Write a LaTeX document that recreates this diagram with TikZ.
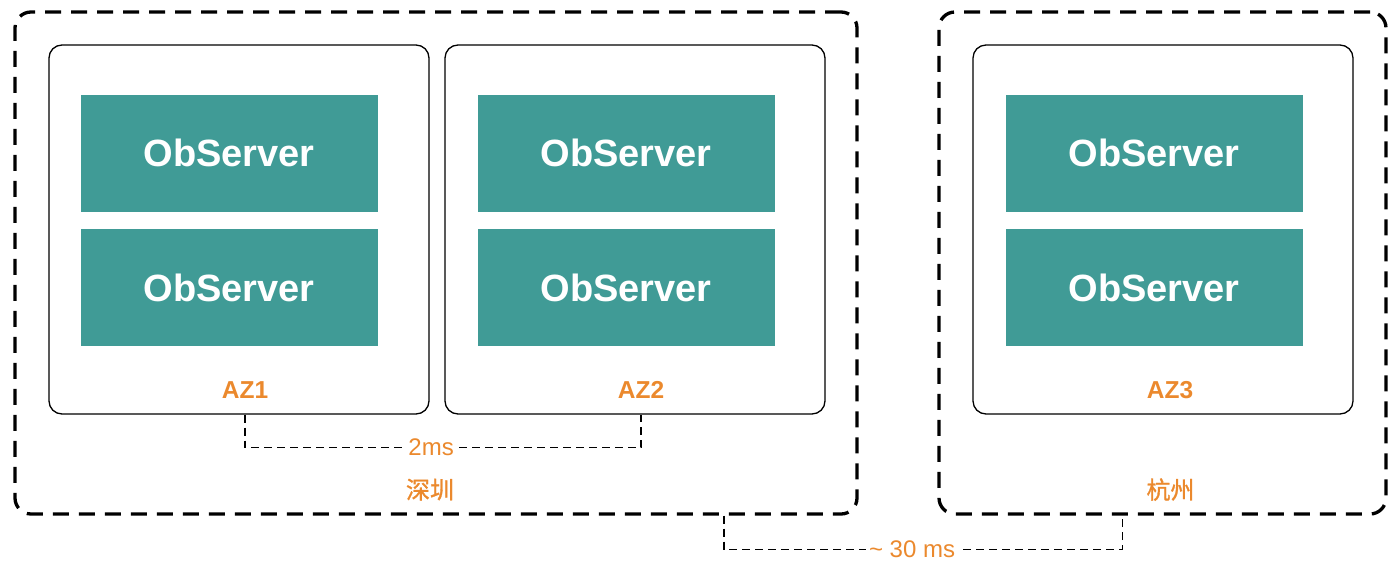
\documentclass[tikz,border=0pt]{standalone}
\usepackage{fontspec}
\setmainfont{Liberation Sans}
\newfontfamily\cjk[FakeBold=1.2]{Noto Sans CJK SC}
\definecolor{ObTeal}{RGB}{64,155,150}
\definecolor{ZoneOrange}{RGB}{235,137,45}
\usetikzlibrary{positioning,calc}

\begin{document}
\begin{tikzpicture}[x=1pt, y=-1pt,
      every node/.style={align=center},
      region/.style ={draw, line width=3.3pt, rounded corners=16pt, dash pattern=on 16pt off 10pt,
                      minimum height=502pt, inner sep=0pt},
      zone/.style   ={draw, line width=1.3pt, rounded corners=13pt, minimum width=380pt,
                      minimum height=369pt, inner sep=0pt},
      obs/.style    ={fill=ObTeal, text=white, font=\fontsize{38}{40}\selectfont\bfseries,
                      minimum width=297pt, minimum height=117pt, inner sep=0pt},
      zlbl/.style   ={text=ZoneOrange, font=\fontsize{24.5}{26}\selectfont\bfseries, inner sep=0pt},
      city/.style   ={text=ZoneOrange, font=\fontsize{24}{26}\selectfont\cjk, inner sep=0pt},
      lat/.style    ={line width=1.6pt, dash pattern=on 8pt off 5pt},
      latlbl/.style ={text=ZoneOrange, font=\fontsize{24}{26}\selectfont, fill=white, inner sep=3pt},
  ]
  \useasboundingbox (0,0) rectangle (1400,576);

  % ─ Regions ─
  \node[region, minimum width=842pt] (sz) at (436,263) {};
  \node[region, minimum width=447pt] (hz) at (1162.5,263) {};

  % ─ Availability zones ─
  \node[zone] (az1) at (239,229.5) {};
  \node[zone] (az2) at (635,229.5) {};
  \node[zone] (az3) at (1163,229.5) {};

  % ─ ObServers ─
  \node[obs, anchor=north west] at ([xshift=32pt,yshift=-50pt]az1.north west) (o11) {ObServer};
  \node[obs, below=17pt of o11]                                              (o12) {ObServer};
  \node[obs, anchor=north west] at ([xshift=33pt,yshift=-50pt]az2.north west) (o21) {ObServer};
  \node[obs, below=17pt of o21]                                              (o22) {ObServer};
  \node[obs, anchor=north west] at ([xshift=33pt,yshift=-50pt]az3.north west) (o31) {ObServer};
  \node[obs, below=17pt of o31]                                              (o32) {ObServer};

  % ─ Zone / region labels ─
  \node[zlbl] at ([xshift=6pt,yshift=25pt]az1.south) (l1) {AZ1};
  \node[zlbl] at ([xshift=6pt,yshift=25pt]az2.south) (l2) {AZ2};
  \node[zlbl] at ([xshift=7pt,yshift=25pt]az3.south) (l3) {AZ3};
  \node[city] at ([xshift=-6pt,yshift=26pt]sz.south) (c1) {深圳};
  \node[city] at ([xshift=8pt,yshift=26pt]hz.south)  (c2) {杭州};

  % ─ Latency links ─
  \draw[lat] (az1.south -| l1) -- ++(0,33) -| node[latlbl, pos=0.235] {2ms} (az2.south -| l2);
  \draw[lat] ([xshift=288pt]sz.south) -- ++(0,34) -| node[latlbl, pos=0.236] {\textasciitilde{} 30 ms} ([xshift=-40pt]hz.south);
\end{tikzpicture}
\end{document}
